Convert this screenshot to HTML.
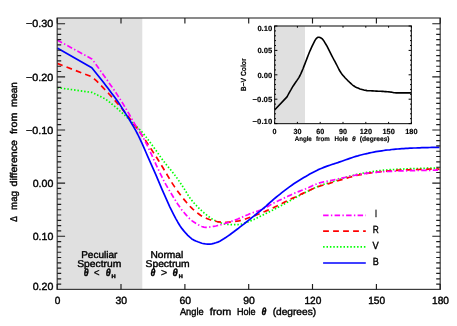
<!DOCTYPE html>
<html><head><meta charset="utf-8"><title>plot</title>
<style>
html,body{margin:0;padding:0;background:#fff;width:457px;height:326px;overflow:hidden}
body{font-family:"Liberation Sans",sans-serif;position:relative}
</style></head><body>
<svg width="457" height="326" viewBox="0 0 457 326" style="display:block;position:absolute;left:0;top:0;will-change:transform;text-rendering:geometricPrecision">
<rect x="0" y="0" width="457" height="326" fill="#ffffff"/>
<rect x="57.2" y="18.0" width="85.1" height="271.4" fill="#e0e0e0"/>
<g fill="none" stroke-width="1.7" stroke-linejoin="round">
<path d="M57.2,87.6 L91.8,92.4 L93.8,93.3 L95.8,94.2 L97.8,95.2 L99.8,96.2 L101.8,97.2 L103.8,98.2 L105.8,99.4 L107.8,100.7 L109.8,102.3 L111.8,104.0 L113.8,105.6 L115.8,107.3 L117.8,109.0 L119.8,110.8 L121.8,112.5 L123.8,114.4 L125.8,116.2 L127.8,118.2 L129.8,120.2 L131.8,122.2 L133.8,124.1 L135.8,125.9 L137.8,127.8 L139.8,129.7 L141.8,131.8 L143.8,134.1 L145.8,136.6 L147.8,139.3 L149.8,142.0 L151.8,144.7 L153.8,147.5 L155.8,150.2 L157.8,153.1 L159.8,155.9 L161.8,158.7 L163.8,161.4 L165.8,164.0 L167.8,166.4 L169.8,168.8 L171.8,171.2 L173.8,173.8 L175.8,176.4 L177.8,179.2 L179.8,182.1 L181.8,185.1 L183.8,188.1 L185.8,191.4 L187.8,194.7 L189.8,197.8 L191.8,200.4 L193.8,202.8 L195.8,205.0 L197.8,207.1 L199.8,209.1 L201.8,210.9 L203.8,212.7 L205.8,214.3 L207.8,215.9 L209.8,217.4 L211.8,218.8 L213.8,220.0 L215.8,220.9 L217.8,221.8 L219.8,222.5 L221.8,223.2 L223.8,223.8 L225.8,224.3 L227.8,224.5 L229.8,224.5 L231.8,224.6 L233.8,224.6 L235.8,224.6 L237.8,224.6 L239.8,224.4 L241.8,224.0 L243.8,223.4 L245.8,222.7 L247.8,221.9 L249.8,221.2 L251.8,220.4 L253.8,219.6 L255.8,218.6 L257.8,217.6 L259.8,216.6 L261.8,215.6 L263.8,214.6 L265.8,213.6 L267.8,212.6 L269.8,211.6 L271.8,210.6 L273.8,209.5 L275.8,208.5 L277.8,207.4 L279.8,206.4 L281.8,205.3 L283.8,204.2 L285.8,203.1 L287.8,202.0 L289.8,200.8 L291.8,199.7 L293.8,198.6 L295.8,197.5 L297.8,196.4 L299.8,195.3 L301.8,194.3 L303.8,193.3 L305.8,192.3 L307.8,191.3 L309.8,190.3 L311.8,189.3 L313.8,188.3 L315.8,187.4 L317.8,186.5 L319.8,185.7 L321.8,185.0 L323.8,184.3 L325.8,183.7 L327.8,183.1 L329.8,182.5 L331.8,181.9 L333.8,181.2 L335.8,180.6 L337.8,179.9 L339.8,179.2 L341.8,178.6 L343.8,178.0 L345.8,177.4 L347.8,176.8 L349.8,176.2 L351.8,175.7 L353.8,175.2 L355.8,174.7 L357.8,174.2 L359.8,173.8 L361.8,173.4 L363.8,173.0 L365.8,172.7 L367.8,172.3 L369.8,172.0 L371.8,171.7 L373.8,171.4 L375.8,171.1 L377.8,170.9 L379.8,170.6 L381.8,170.4 L383.8,170.2 L385.8,170.0 L387.8,169.9 L389.8,169.7 L391.8,169.6 L393.8,169.5 L395.8,169.4 L397.8,169.2 L399.8,169.1 L401.8,169.1 L403.8,169.0 L405.8,168.9 L407.8,168.8 L409.8,168.7 L411.8,168.7 L413.8,168.6 L415.8,168.5 L417.8,168.5 L419.8,168.4 L421.8,168.4 L423.8,168.3 L425.8,168.2 L427.8,168.2 L429.8,168.2 L431.8,168.1 L433.8,168.1 L435.8,168.0 L437.8,168.0 L439.5,168.0" stroke="#00ff00" stroke-dasharray="1.5 1.9"/>
<path d="M57.2,63.4 L90.8,76.4 L92.8,77.8 L94.8,79.4 L96.8,81.2 L98.8,83.3 L100.8,85.3 L102.8,87.4 L104.8,89.5 L106.8,91.6 L108.8,93.7 L110.8,95.9 L112.8,98.1 L114.8,100.4 L116.8,102.6 L118.8,105.0 L120.8,107.3 L122.8,109.8 L124.8,112.2 L126.8,114.7 L128.8,117.3 L130.8,120.0 L132.8,122.7 L134.8,125.4 L136.8,128.1 L138.8,130.8 L140.8,133.6 L142.8,136.5 L144.8,139.4 L146.8,142.4 L148.8,145.4 L150.8,148.5 L152.8,151.6 L154.8,154.7 L156.8,157.8 L158.8,161.0 L160.8,164.2 L162.8,167.5 L164.8,170.8 L166.8,174.2 L168.8,177.6 L170.8,181.0 L172.8,184.1 L174.8,187.1 L176.8,190.0 L178.8,192.8 L180.8,195.5 L182.8,198.0 L184.8,200.4 L186.8,202.8 L188.8,205.1 L190.8,207.2 L192.8,209.1 L194.8,210.8 L196.8,212.5 L198.8,214.0 L200.8,215.5 L202.8,216.7 L204.8,217.7 L206.8,218.5 L208.8,219.3 L210.8,220.0 L212.8,220.6 L214.8,221.1 L216.8,221.5 L218.8,221.8 L220.8,222.2 L222.8,222.4 L224.8,222.4 L226.8,222.4 L228.8,222.2 L230.8,222.0 L232.8,221.8 L234.8,221.5 L236.8,221.2 L238.8,220.9 L240.8,220.4 L242.8,219.8 L244.8,219.2 L246.8,218.5 L248.8,217.8 L250.8,217.1 L252.8,216.4 L254.8,215.6 L256.8,214.8 L258.8,214.0 L260.8,213.1 L262.8,212.3 L264.8,211.5 L266.8,210.6 L268.8,209.7 L270.8,208.9 L272.8,208.0 L274.8,207.0 L276.8,206.1 L278.8,205.1 L280.8,204.1 L282.8,203.1 L284.8,202.1 L286.8,201.1 L288.8,200.1 L290.8,199.1 L292.8,198.1 L294.8,197.2 L296.8,196.2 L298.8,195.3 L300.8,194.3 L302.8,193.4 L304.8,192.5 L306.8,191.6 L308.8,190.6 L310.8,189.7 L312.8,188.8 L314.8,187.9 L316.8,187.1 L318.8,186.4 L320.8,185.8 L322.8,185.3 L324.8,184.8 L326.8,184.2 L328.8,183.6 L330.8,183.0 L332.8,182.3 L334.8,181.7 L336.8,181.1 L338.8,180.5 L340.8,179.9 L342.8,179.3 L344.8,178.7 L346.8,178.1 L348.8,177.5 L350.8,177.0 L352.8,176.4 L354.8,175.9 L356.8,175.4 L358.8,175.0 L360.8,174.6 L362.8,174.2 L364.8,173.8 L366.8,173.5 L368.8,173.2 L370.8,172.9 L372.8,172.7 L374.8,172.4 L376.8,172.2 L378.8,172.0 L380.8,171.7 L382.8,171.5 L384.8,171.3 L386.8,171.1 L388.8,170.9 L390.8,170.8 L392.8,170.6 L394.8,170.5 L396.8,170.4 L398.8,170.2 L400.8,170.1 L402.8,170.0 L404.8,169.9 L406.8,169.8 L408.8,169.8 L410.8,169.7 L412.8,169.6 L414.8,169.6 L416.8,169.5 L418.8,169.5 L420.8,169.4 L422.8,169.4 L424.8,169.3 L426.8,169.3 L428.8,169.2 L430.8,169.2 L432.8,169.2 L434.8,169.1 L436.8,169.1 L438.8,169.1 L439.5,169.1" stroke="#ff0000" stroke-dasharray="5.8 4.2"/>
<path d="M57.2,40.0 L91.8,58.9 L93.8,61.5 L95.8,64.2 L97.8,67.0 L99.8,69.8 L101.8,72.6 L103.8,75.4 L105.8,78.2 L107.8,81.0 L109.8,83.9 L111.8,86.7 L113.8,89.6 L115.8,92.5 L117.8,95.6 L119.8,98.7 L121.8,101.8 L123.8,105.1 L125.8,108.5 L127.8,111.9 L129.8,115.3 L131.8,118.8 L133.8,122.3 L135.8,125.8 L137.8,128.8 L139.8,131.6 L141.8,134.9 L143.8,138.6 L145.8,142.6 L147.8,146.6 L149.8,150.9 L151.8,155.2 L153.8,159.6 L155.8,164.1 L157.8,168.4 L159.8,172.6 L161.8,176.7 L163.8,180.7 L165.8,184.4 L167.8,187.9 L169.8,191.2 L171.8,194.5 L173.8,197.8 L175.8,201.0 L177.8,204.2 L179.8,207.1 L181.8,209.9 L183.8,212.3 L185.8,214.6 L187.8,216.8 L189.8,218.8 L191.8,220.6 L193.8,222.0 L195.8,223.3 L197.8,224.5 L199.8,225.6 L201.8,226.5 L203.8,227.1 L205.8,227.3 L207.8,227.3 L209.8,227.0 L211.8,226.7 L213.8,226.3 L215.8,226.0 L217.8,225.5 L219.8,225.0 L221.8,224.4 L223.8,223.8 L225.8,223.2 L227.8,222.6 L229.8,221.9 L231.8,221.2 L233.8,220.5 L235.8,219.7 L237.8,219.0 L239.8,218.1 L241.8,217.3 L243.8,216.4 L245.8,215.5 L247.8,214.7 L249.8,213.8 L251.8,213.1 L253.8,212.4 L255.8,211.7 L257.8,211.1 L259.8,210.4 L261.8,209.6 L263.8,208.6 L265.8,207.6 L267.8,206.4 L269.8,205.2 L271.8,204.1 L273.8,203.0 L275.8,202.0 L277.8,201.1 L279.8,200.1 L281.8,199.2 L283.8,198.2 L285.8,197.3 L287.8,196.3 L289.8,195.4 L291.8,194.4 L293.8,193.5 L295.8,192.7 L297.8,191.9 L299.8,191.1 L301.8,190.3 L303.8,189.6 L305.8,188.8 L307.8,187.9 L309.8,187.0 L311.8,186.1 L313.8,185.1 L315.8,184.3 L317.8,183.5 L319.8,182.9 L321.8,182.3 L323.8,181.9 L325.8,181.5 L327.8,181.1 L329.8,180.7 L331.8,180.3 L333.8,179.9 L335.8,179.4 L337.8,179.0 L339.8,178.5 L341.8,178.1 L343.8,177.7 L345.8,177.2 L347.8,176.8 L349.8,176.3 L351.8,175.9 L353.8,175.5 L355.8,175.1 L357.8,174.7 L359.8,174.4 L361.8,174.0 L363.8,173.7 L365.8,173.4 L367.8,173.1 L369.8,172.9 L371.8,172.7 L373.8,172.5 L375.8,172.3 L377.8,172.2 L379.8,172.0 L381.8,171.9 L383.8,171.7 L385.8,171.6 L387.8,171.5 L389.8,171.4 L391.8,171.3 L393.8,171.2 L395.8,171.1 L397.8,171.0 L399.8,171.0 L401.8,170.9 L403.8,170.8 L405.8,170.8 L407.8,170.7 L409.8,170.7 L411.8,170.6 L413.8,170.6 L415.8,170.5 L417.8,170.5 L419.8,170.5 L421.8,170.4 L423.8,170.4 L425.8,170.4 L427.8,170.3 L429.8,170.3 L431.8,170.3 L433.8,170.2 L435.8,170.2 L437.8,170.2 L439.5,170.2" stroke="#ff00ff" stroke-dasharray="5.5 2.3 1.4 2.3"/>
<path d="M57.2,48.1 L91.8,67.7 L93.8,70.2 L95.8,72.7 L97.8,75.2 L99.8,77.7 L101.8,80.2 L103.8,82.8 L105.8,85.4 L107.8,88.1 L109.8,90.8 L111.8,93.4 L113.8,96.0 L115.8,98.7 L117.8,101.4 L119.8,104.4 L121.8,107.6 L123.8,110.8 L125.8,113.9 L127.8,117.1 L129.8,120.3 L131.8,123.7 L133.8,127.1 L135.8,130.7 L137.8,134.5 L139.8,138.6 L141.8,142.9 L143.8,147.3 L145.8,152.0 L147.8,156.6 L149.8,161.1 L151.8,165.6 L153.8,170.2 L155.8,174.7 L157.8,179.4 L159.8,184.1 L161.8,188.8 L163.8,193.4 L165.8,197.9 L167.8,202.4 L169.8,206.8 L171.8,210.9 L173.8,214.8 L175.8,218.6 L177.8,222.2 L179.8,225.5 L181.8,228.4 L183.8,230.9 L185.8,233.2 L187.8,235.3 L189.8,237.2 L191.8,238.9 L193.8,240.1 L195.8,241.0 L197.8,241.8 L199.8,242.5 L201.8,243.2 L203.8,243.7 L205.8,244.0 L207.8,244.2 L209.8,244.1 L211.8,243.8 L213.8,243.4 L215.8,242.8 L217.8,242.1 L219.8,241.2 L221.8,240.0 L223.8,238.8 L225.8,237.5 L227.8,236.1 L229.8,234.7 L231.8,233.2 L233.8,231.8 L235.8,230.3 L237.8,228.8 L239.8,227.2 L241.8,225.6 L243.8,224.1 L245.8,222.5 L247.8,220.9 L249.8,219.3 L251.8,217.7 L253.8,216.1 L255.8,214.5 L257.8,212.9 L259.8,211.3 L261.8,209.6 L263.8,208.0 L265.8,206.3 L267.8,204.5 L269.8,202.7 L271.8,201.0 L273.8,199.2 L275.8,197.5 L277.8,195.9 L279.8,194.3 L281.8,192.7 L283.8,191.1 L285.8,189.6 L287.8,188.1 L289.8,186.6 L291.8,185.2 L293.8,183.8 L295.8,182.5 L297.8,181.2 L299.8,180.0 L301.8,178.8 L303.8,177.6 L305.8,176.4 L307.8,175.3 L309.8,174.1 L311.8,173.0 L313.8,171.9 L315.8,170.9 L317.8,169.9 L319.8,169.0 L321.8,168.2 L323.8,167.4 L325.8,166.6 L327.8,165.9 L329.8,165.2 L331.8,164.5 L333.8,163.9 L335.8,163.2 L337.8,162.6 L339.8,161.9 L341.8,161.2 L343.8,160.5 L345.8,159.8 L347.8,159.1 L349.8,158.4 L351.8,157.7 L353.8,157.0 L355.8,156.4 L357.8,155.9 L359.8,155.3 L361.8,154.8 L363.8,154.3 L365.8,153.8 L367.8,153.4 L369.8,152.9 L371.8,152.5 L373.8,152.1 L375.8,151.7 L377.8,151.4 L379.8,151.1 L381.8,150.8 L383.8,150.5 L385.8,150.2 L387.8,150.0 L389.8,149.8 L391.8,149.5 L393.8,149.3 L395.8,149.1 L397.8,149.0 L399.8,148.8 L401.8,148.7 L403.8,148.6 L405.8,148.4 L407.8,148.3 L409.8,148.2 L411.8,148.1 L413.8,148.0 L415.8,148.0 L417.8,147.9 L419.8,147.8 L421.8,147.7 L423.8,147.7 L425.8,147.6 L427.8,147.6 L429.8,147.5 L431.8,147.4 L433.8,147.4 L435.8,147.4 L437.8,147.3 L439.5,147.3" stroke="#0000ff"/>
</g>
<g stroke="#3c3c3c" stroke-width="1.2" fill="none" stroke-linecap="square">
<rect x="57.2" y="18.0" width="383.0" height="271.4"/>
</g>
<path d="M57.2,289.4v-5.4M57.2,18.0v5.4M121.0,289.4v-5.4M121.0,18.0v5.4M184.9,289.4v-5.4M184.9,18.0v5.4M248.7,289.4v-5.4M248.7,18.0v5.4M312.5,289.4v-5.4M312.5,18.0v5.4M376.4,289.4v-5.4M376.4,18.0v5.4M440.2,289.4v-5.4M440.2,18.0v5.4M57.2,23.7h7.9M440.2,23.7h-7.9M57.2,29.0h4.0M440.2,29.0h-4.0M57.2,34.3h4.0M440.2,34.3h-4.0M57.2,39.6h4.0M440.2,39.6h-4.0M57.2,44.9h4.0M440.2,44.9h-4.0M57.2,50.2h4.0M440.2,50.2h-4.0M57.2,55.6h4.0M440.2,55.6h-4.0M57.2,60.9h4.0M440.2,60.9h-4.0M57.2,66.2h4.0M440.2,66.2h-4.0M57.2,71.5h4.0M440.2,71.5h-4.0M57.2,76.8h7.9M440.2,76.8h-7.9M57.2,82.1h4.0M440.2,82.1h-4.0M57.2,87.4h4.0M440.2,87.4h-4.0M57.2,92.8h4.0M440.2,92.8h-4.0M57.2,98.1h4.0M440.2,98.1h-4.0M57.2,103.4h4.0M440.2,103.4h-4.0M57.2,108.7h4.0M440.2,108.7h-4.0M57.2,114.0h4.0M440.2,114.0h-4.0M57.2,119.3h4.0M440.2,119.3h-4.0M57.2,124.6h4.0M440.2,124.6h-4.0M57.2,130.0h7.9M440.2,130.0h-7.9M57.2,135.3h4.0M440.2,135.3h-4.0M57.2,140.6h4.0M440.2,140.6h-4.0M57.2,145.9h4.0M440.2,145.9h-4.0M57.2,151.2h4.0M440.2,151.2h-4.0M57.2,156.5h4.0M440.2,156.5h-4.0M57.2,161.8h4.0M440.2,161.8h-4.0M57.2,167.2h4.0M440.2,167.2h-4.0M57.2,172.5h4.0M440.2,172.5h-4.0M57.2,177.8h4.0M440.2,177.8h-4.0M57.2,183.1h7.9M440.2,183.1h-7.9M57.2,188.4h4.0M440.2,188.4h-4.0M57.2,193.7h4.0M440.2,193.7h-4.0M57.2,199.0h4.0M440.2,199.0h-4.0M57.2,204.4h4.0M440.2,204.4h-4.0M57.2,209.7h4.0M440.2,209.7h-4.0M57.2,215.0h4.0M440.2,215.0h-4.0M57.2,220.3h4.0M440.2,220.3h-4.0M57.2,225.6h4.0M440.2,225.6h-4.0M57.2,230.9h4.0M440.2,230.9h-4.0M57.2,236.2h7.9M440.2,236.2h-7.9M57.2,241.6h4.0M440.2,241.6h-4.0M57.2,246.9h4.0M440.2,246.9h-4.0M57.2,252.2h4.0M440.2,252.2h-4.0M57.2,257.5h4.0M440.2,257.5h-4.0M57.2,262.8h4.0M440.2,262.8h-4.0M57.2,268.1h4.0M440.2,268.1h-4.0M57.2,273.4h4.0M440.2,273.4h-4.0M57.2,278.8h4.0M440.2,278.8h-4.0M57.2,284.1h4.0M440.2,284.1h-4.0" stroke="#1c1c1c" stroke-width="1.15" fill="none"/>
<rect x="274.6" y="26.0" width="136.8" height="97.6" fill="#ffffff"/>
<rect x="274.6" y="26.0" width="30.4" height="97.6" fill="#e0e0e0"/>
<path d="M274.6,110.0 L287.0,96.9 L288.0,95.0 L289.0,93.1 L290.0,91.3 L291.0,89.6 L292.0,87.8 L293.0,86.2 L294.0,84.7 L295.0,83.2 L296.0,81.8 L297.0,80.4 L298.0,78.9 L299.0,77.3 L300.0,75.5 L301.0,73.4 L302.0,71.1 L303.0,68.7 L304.0,66.1 L305.0,63.6 L306.0,61.0 L307.0,58.4 L308.0,55.7 L309.0,53.2 L310.0,50.8 L311.0,48.6 L312.0,46.4 L313.0,44.3 L314.0,42.4 L315.0,40.4 L316.0,38.8 L317.0,37.9 L318.0,37.3 L319.0,37.2 L320.0,37.5 L321.0,38.0 L322.0,38.6 L323.0,39.7 L324.0,41.1 L325.0,42.8 L326.0,44.5 L327.0,46.2 L328.0,48.2 L329.0,50.2 L330.0,52.2 L331.0,54.2 L332.0,56.1 L333.0,58.0 L334.0,59.9 L335.0,61.7 L336.0,63.6 L337.0,65.5 L338.0,67.5 L339.0,69.5 L340.0,71.3 L341.0,72.8 L342.0,74.2 L343.0,75.4 L344.0,76.6 L345.0,77.8 L346.0,78.8 L347.0,79.8 L348.0,80.8 L349.0,81.7 L350.0,82.7 L351.0,83.6 L352.0,84.5 L353.0,85.3 L354.0,86.0 L355.0,86.7 L356.0,87.3 L357.0,87.7 L358.0,88.1 L359.0,88.5 L360.0,88.9 L361.0,89.2 L362.0,89.5 L363.0,89.8 L364.0,90.1 L365.0,90.3 L366.0,90.4 L367.0,90.6 L368.0,90.7 L369.0,90.7 L370.0,90.8 L371.0,90.8 L372.0,90.9 L373.0,90.9 L374.0,91.0 L375.0,91.0 L376.0,91.1 L377.0,91.1 L378.0,91.2 L379.0,91.2 L380.0,91.3 L381.0,91.3 L382.0,91.4 L383.0,91.4 L384.0,91.5 L385.0,91.6 L386.0,91.6 L387.0,91.7 L388.0,91.8 L389.0,91.9 L390.0,92.0 L391.0,92.1 L392.0,92.3 L393.0,92.5 L394.0,92.7 L395.0,92.8 L396.0,92.9 L397.0,92.9 L398.0,92.9 L399.0,92.9 L400.0,92.9 L401.0,92.9 L402.0,92.9 L403.0,92.9 L404.0,92.9 L405.0,92.9 L406.0,92.9 L407.0,92.9 L408.0,92.9 L409.0,92.9 L410.0,92.9 L411.0,92.9 L411.2,92.9" stroke="#000" stroke-width="1.6" fill="none" stroke-linejoin="round"/>
<rect x="274.6" y="26.0" width="136.8" height="97.6" fill="none" stroke="#2e2e2e" stroke-width="1.2"/>
<path d="M274.6,123.6v-1.7M274.6,26.0v1.7M297.4,123.6v-1.7M297.4,26.0v1.7M320.2,123.6v-1.7M320.2,26.0v1.7M343.0,123.6v-1.7M343.0,26.0v1.7M365.8,123.6v-1.7M365.8,26.0v1.7M388.6,123.6v-1.7M388.6,26.0v1.7M411.4,123.6v-1.7M411.4,26.0v1.7M274.6,123.6h2.8M411.4,123.6h-2.8M274.6,118.7h1.4M411.4,118.7h-1.4M274.6,113.8h1.4M411.4,113.8h-1.4M274.6,109.0h1.4M411.4,109.0h-1.4M274.6,104.1h1.4M411.4,104.1h-1.4M274.6,99.2h2.8M411.4,99.2h-2.8M274.6,94.3h1.4M411.4,94.3h-1.4M274.6,89.4h1.4M411.4,89.4h-1.4M274.6,84.6h1.4M411.4,84.6h-1.4M274.6,79.7h1.4M411.4,79.7h-1.4M274.6,74.8h2.8M411.4,74.8h-2.8M274.6,69.9h1.4M411.4,69.9h-1.4M274.6,65.0h1.4M411.4,65.0h-1.4M274.6,60.2h1.4M411.4,60.2h-1.4M274.6,55.3h1.4M411.4,55.3h-1.4M274.6,50.4h2.8M411.4,50.4h-2.8M274.6,45.5h1.4M411.4,45.5h-1.4M274.6,40.6h1.4M411.4,40.6h-1.4M274.6,35.8h1.4M411.4,35.8h-1.4M274.6,30.9h1.4M411.4,30.9h-1.4M274.6,26.0h2.8M411.4,26.0h-2.8" stroke="#000" stroke-width="1" fill="none"/>
<g fill="none" stroke-width="1.7">
<path d="M323.1,215.3H365.8" stroke="#ff00ff" stroke-dasharray="5.5 2.3 1.4 2.3"/>
<path d="M323.1,231.1H365.8" stroke="#ff0000" stroke-dasharray="5.8 4.2"/>
<path d="M323.1,246.8H365.8" stroke="#00ff00" stroke-dasharray="1.5 1.9"/>
<path d="M323.1,263.0H365.8" stroke="#0000ff"/>
</g>
<g font-family="Liberation Sans, sans-serif" font-size="10.4" fill="#000" stroke="#000" stroke-width="0.4">
<text x="26.0" y="27.3" textLength="27.3" lengthAdjust="spacingAndGlyphs">−0.30</text>
<text x="26.0" y="80.5" textLength="27.3" lengthAdjust="spacingAndGlyphs">−0.20</text>
<text x="26.0" y="134.0" textLength="27.3" lengthAdjust="spacingAndGlyphs">−0.10</text>
<text x="32.7" y="186.9" textLength="20.6" lengthAdjust="spacingAndGlyphs">0.00</text>
<text x="32.7" y="240.0" textLength="20.6" lengthAdjust="spacingAndGlyphs">0.10</text>
<text x="32.7" y="289.9" textLength="20.6" lengthAdjust="spacingAndGlyphs">0.20</text>
<text x="54.7" y="303.8" textLength="5.6" lengthAdjust="spacingAndGlyphs">0</text>
<text x="115.5" y="303.8" textLength="11.6" lengthAdjust="spacingAndGlyphs">30</text>
<text x="179.4" y="303.8" textLength="11.6" lengthAdjust="spacingAndGlyphs">60</text>
<text x="243.2" y="303.8" textLength="11.6" lengthAdjust="spacingAndGlyphs">90</text>
<text x="304.4" y="303.8" textLength="16.9" lengthAdjust="spacingAndGlyphs">120</text>
<text x="368.2" y="303.8" textLength="16.9" lengthAdjust="spacingAndGlyphs">150</text>
<text x="432.1" y="303.8" textLength="16.9" lengthAdjust="spacingAndGlyphs">180</text>
<text x="179.9" y="315.4" textLength="23.7" lengthAdjust="spacingAndGlyphs" font-size="10">Angle</text>
<text x="209.7" y="315.4" textLength="21.6" lengthAdjust="spacingAndGlyphs" font-size="10">from</text>
<text x="236.9" y="315.4" textLength="18.7" lengthAdjust="spacingAndGlyphs" font-size="10">Hole</text>
<text x="261.5" y="315.4" textLength="4.9" lengthAdjust="spacingAndGlyphs" font-style="italic" font-weight="bold">θ</text>
<text x="272.7" y="315.4" textLength="43.4" lengthAdjust="spacingAndGlyphs" font-size="10">(degrees)</text>
<text transform="translate(17.2,221.7) rotate(-90)" textLength="5.6" lengthAdjust="spacingAndGlyphs" font-size="9.8">Δ</text>
<text transform="translate(17.2,209.9) rotate(-90)" textLength="18.8" lengthAdjust="spacingAndGlyphs" font-size="9.8">mag</text>
<text transform="translate(17.2,186.5) rotate(-90)" textLength="46.4" lengthAdjust="spacingAndGlyphs" font-size="9.8">difference</text>
<text transform="translate(17.2,134.1) rotate(-90)" textLength="21.4" lengthAdjust="spacingAndGlyphs" font-size="9.8">from</text>
<text transform="translate(17.2,107.1) rotate(-90)" textLength="25.0" lengthAdjust="spacingAndGlyphs" font-size="9.8">mean</text>
<text x="375.0" y="217.0" textLength="2.0" lengthAdjust="spacingAndGlyphs">I</text>
<text x="372.8" y="233.0" textLength="6.0" lengthAdjust="spacingAndGlyphs">R</text>
<text x="372.6" y="248.7" textLength="6.2" lengthAdjust="spacingAndGlyphs">V</text>
<text x="372.8" y="265.2" textLength="6.0" lengthAdjust="spacingAndGlyphs">B</text>
<text x="81.2" y="257.9" textLength="36.2" lengthAdjust="spacingAndGlyphs" font-size="9.8">Peculiar</text>
<text x="77.2" y="266.8" textLength="44.1" lengthAdjust="spacingAndGlyphs" font-size="9.8">Spectrum</text>
<text x="83.7" y="275.7" textLength="4.9" lengthAdjust="spacingAndGlyphs" font-style="italic" font-weight="bold">θ</text>
<text x="94.1" y="275.9" textLength="5.5" lengthAdjust="spacingAndGlyphs">&lt;</text>
<text x="105.7" y="275.7" textLength="5.0" lengthAdjust="spacingAndGlyphs" font-style="italic" font-weight="bold">θ</text>
<text x="111.5" y="277.6" textLength="4.1" lengthAdjust="spacingAndGlyphs" font-size="5" font-weight="bold">H</text>
<text x="150.4" y="257.9" textLength="32.8" lengthAdjust="spacingAndGlyphs" font-size="9.8">Normal</text>
<text x="145.5" y="266.8" textLength="44.2" lengthAdjust="spacingAndGlyphs" font-size="9.8">Spectrum</text>
<text x="150.4" y="275.7" textLength="4.9" lengthAdjust="spacingAndGlyphs" font-style="italic" font-weight="bold">θ</text>
<text x="160.9" y="275.9" textLength="6.1" lengthAdjust="spacingAndGlyphs">&gt;</text>
<text x="172.5" y="275.7" textLength="5.3" lengthAdjust="spacingAndGlyphs" font-style="italic" font-weight="bold">θ</text>
<text x="178.7" y="277.6" textLength="4.0" lengthAdjust="spacingAndGlyphs" font-size="5" font-weight="bold">H</text>
</g>
<g font-family="Liberation Sans, sans-serif" font-size="7.4" font-weight="bold" fill="#000" stroke="#000" stroke-width="0.15">
<text x="257.4" y="30.8" textLength="14.8" lengthAdjust="spacingAndGlyphs">0.10</text>
<text x="257.4" y="53.3" textLength="14.8" lengthAdjust="spacingAndGlyphs">0.05</text>
<text x="257.4" y="77.8" textLength="14.8" lengthAdjust="spacingAndGlyphs">0.00</text>
<text x="252.6" y="102.2" textLength="19.6" lengthAdjust="spacingAndGlyphs">−0.05</text>
<text x="252.6" y="124.1" textLength="19.6" lengthAdjust="spacingAndGlyphs">−0.10</text>
<text x="272.6" y="133.6" textLength="4.0" lengthAdjust="spacingAndGlyphs">0</text>
<text x="293.4" y="133.6" textLength="8.0" lengthAdjust="spacingAndGlyphs">30</text>
<text x="316.2" y="133.6" textLength="8.0" lengthAdjust="spacingAndGlyphs">60</text>
<text x="339.0" y="133.6" textLength="8.0" lengthAdjust="spacingAndGlyphs">90</text>
<text x="359.7" y="133.6" textLength="12.3" lengthAdjust="spacingAndGlyphs">120</text>
<text x="382.5" y="133.6" textLength="12.3" lengthAdjust="spacingAndGlyphs">150</text>
<text x="405.2" y="133.6" textLength="12.3" lengthAdjust="spacingAndGlyphs">180</text>
<text x="294.7" y="141.4" textLength="17.1" lengthAdjust="spacingAndGlyphs" font-size="6.7">Angle</text>
<text x="316.0" y="141.4" textLength="13.8" lengthAdjust="spacingAndGlyphs" font-size="6.7">from</text>
<text x="334.6" y="141.4" textLength="13.4" lengthAdjust="spacingAndGlyphs" font-size="6.7">Hole</text>
<text x="352.0" y="141.4" textLength="3.7" lengthAdjust="spacingAndGlyphs" font-size="6.7" font-style="italic">θ</text>
<text x="359.7" y="141.4" textLength="29.9" lengthAdjust="spacingAndGlyphs" font-size="6.7">(degrees)</text>
<text transform="translate(246.1,74.9) rotate(-90)" text-anchor="middle" textLength="32.8" lengthAdjust="spacingAndGlyphs">B−V Color</text>
</g>
</svg>
</body></html>
